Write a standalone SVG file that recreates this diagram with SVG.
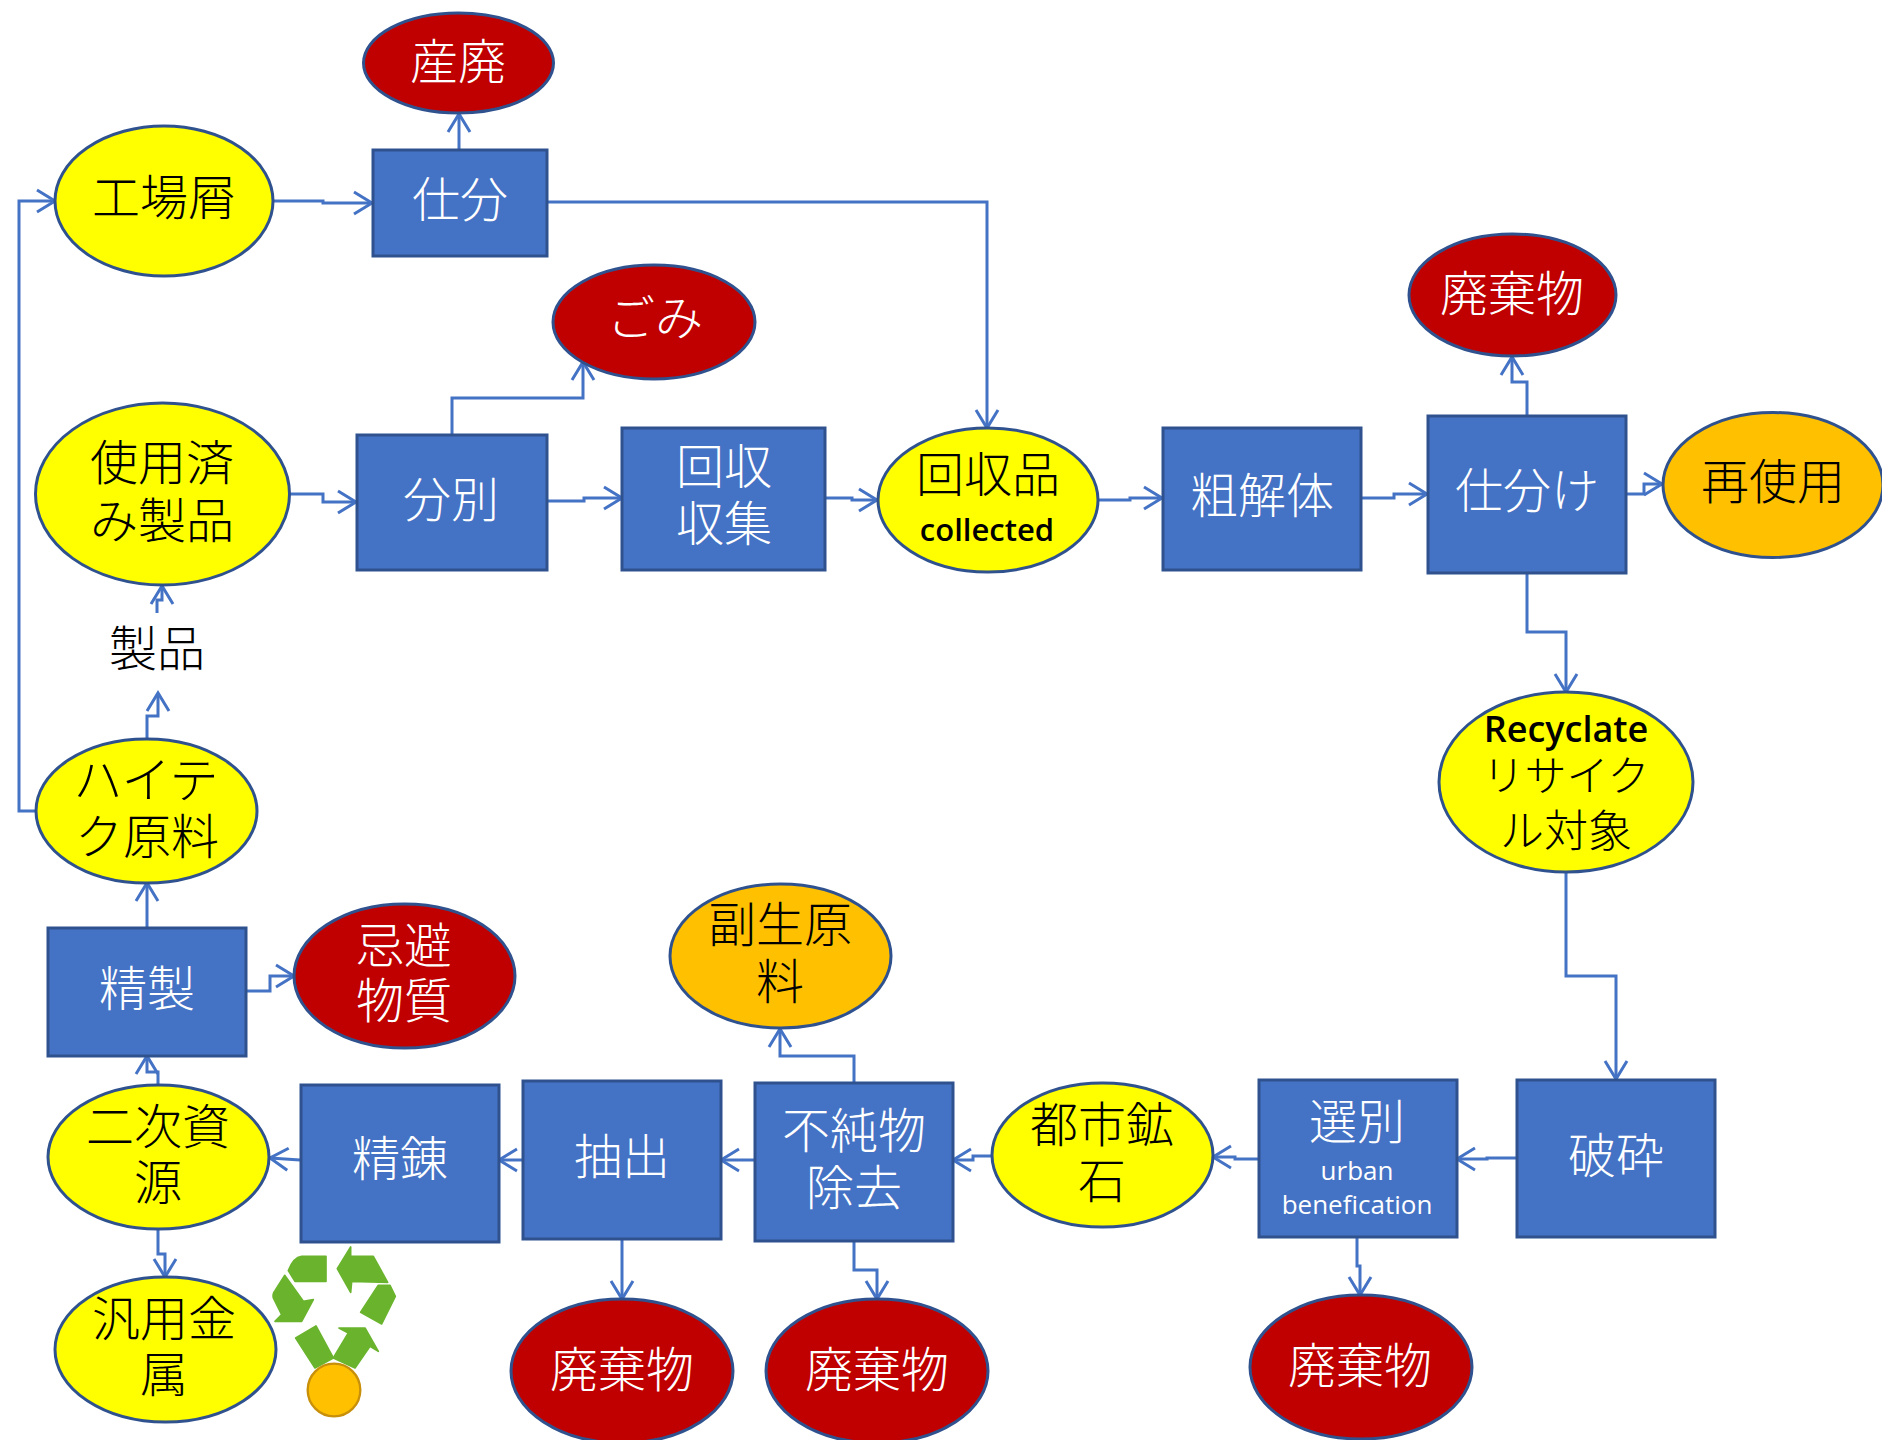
<svg xmlns="http://www.w3.org/2000/svg" width="1882" height="1440" viewBox="0 0 1882 1440">
<style>
.b{fill:#4472C4;stroke:#2F528F;stroke-width:3}
.y{fill:#FFFF00;stroke:#2F528F;stroke-width:3}
.r{fill:#C00000;stroke:#2F528F;stroke-width:3}
.o{fill:#FFC000;stroke:#2F528F;stroke-width:3}
text{font-family:"Noto Sans CJK JP","Noto Sans",sans-serif;font-size:48px;font-weight:300;text-anchor:middle;dominant-baseline:central;fill:#000}
.w{fill:#fff}
.l{font-family:"Open Sans","Noto Sans",sans-serif;font-weight:400;font-size:26px}
.c{font-family:"Open Sans","Noto Sans",sans-serif;font-weight:600;font-size:31px}
#connectors polyline{fill:none;stroke:#4472C4;stroke-width:3;marker-end:url(#a)}
.g{fill:#6AB42D;stroke:#6AB42D;stroke-width:5;stroke-linejoin:round}
</style>
<defs>
<marker id="a" markerUnits="userSpaceOnUse" markerWidth="24" markerHeight="28" refX="20" refY="12" orient="auto" viewBox="0 0 24 24" overflow="visible">
<path d="M2 1L20 12L2 23" fill="none" stroke="#4472C4" stroke-width="3"/>
</marker>
</defs>
<rect width="1882" height="1440" fill="#fff"/>
<g id="connectors">
<polyline points="273,201 323,201 323,203 372,203"/>
<polyline points="459,150 459,114"/>
<polyline points="547,202 987,202 987,428"/>
<polyline points="452,434 452,398 583,398 583,362"/>
<polyline points="289,494 323,494 323,502 356,502"/>
<polyline points="547,501 584,501 584,498 622,498"/>
<polyline points="826,498 852,498 852,500 877,500"/>
<polyline points="1098,500 1130,500 1130,498 1162,498"/>
<polyline points="1361,498 1394,498 1394,494 1427,494"/>
<polyline points="1527,415 1527,382 1512,382 1512,357"/>
<polyline points="1626,494 1644,494 1644,484 1662,484"/>
<polyline points="1527,573 1527,632 1566,632 1566,692"/>
<polyline points="1566,873 1566,976 1616,976 1616,1079"/>
<polyline points="1516,1158 1487,1158 1487,1159 1457,1159"/>
<polyline points="1258,1159 1235,1159 1235,1157 1213,1157"/>
<polyline points="1357,1237 1357,1266 1360,1266 1360,1295"/>
<polyline points="993,1156 973,1156 973,1160 953,1160"/>
<polyline points="854,1083 854,1056 780,1056 780,1029"/>
<polyline points="854,1241 854,1270 877,1270 877,1299"/>
<polyline points="755,1160 721,1160"/>
<polyline points="622,1239 622,1299"/>
<polyline points="522,1160 499,1160"/>
<polyline points="300,1160 270,1158"/>
<polyline points="158,1085 158,1072 147,1072 147,1056"/>
<polyline points="158,1230 158,1254 165,1254 165,1277"/>
<polyline points="147,928 147,883"/>
<polyline points="246,991 270,991 270,976 294,976"/>
<polyline points="147,739 147,716 158,716 158,693"/>
<polyline points="157,613 157,600 162,600 162,586"/>
<polyline points="36,811 19,811 19,201 55,201"/>
</g>
<g id="n1"><ellipse class="r" cx="458.5" cy="63" rx="95" ry="50"/><text class="w" x="458" y="58">産廃</text></g>
<g id="n2"><ellipse class="y" cx="164" cy="201" rx="109" ry="75"/><text x="164" y="194">工場屑</text></g>
<g id="n3"><rect class="b" x="373" y="150" width="174" height="106"/><text class="w" x="460" y="196">仕分</text></g>
<g id="n4"><ellipse class="r" cx="654" cy="322" rx="101" ry="57"/><text class="w" x="655" y="314">ごみ</text></g>
<g id="n5"><ellipse class="y" cx="162.5" cy="494" rx="127" ry="91"/><text x="162" y="459">使用済</text><text x="162" y="517">み製品</text></g>
<g id="n6"><rect class="b" x="357" y="435" width="190" height="135"/><text class="w" x="451" y="496">分別</text></g>
<g id="n7"><rect class="b" x="622" y="428" width="203" height="142"/><text class="w" x="724" y="463">回収</text><text class="w" x="724" y="520">収集</text></g>
<g id="n8"><ellipse class="y" cx="988" cy="500" rx="110" ry="72"/><text x="988" y="471">回収品</text><text class="c" x="987" y="529">collected</text></g>
<g id="n9"><rect class="b" x="1163" y="428" width="198" height="142"/><text class="w" x="1262" y="492">粗解体</text></g>
<g id="n10"><rect class="b" x="1428" y="416" width="198" height="157"/><text class="w" x="1527" y="487">仕分け</text></g>
<g id="n11"><ellipse class="r" cx="1512.5" cy="295" rx="103.5" ry="61"/><text class="w" x="1512" y="290">廃棄物</text></g>
<g id="n12"><ellipse class="o" cx="1773" cy="485" rx="110" ry="72.5"/><text x="1773" y="478">再使用</text></g>
<g id="n13"><ellipse class="y" cx="1566" cy="782" rx="127" ry="90"/><text class="c" style="font-size:36px" x="1566" y="728">Recyclate</text><text style="font-size:42px" x="1566" y="772">リサイク</text><text style="font-size:44px" x="1566" y="828">ル対象</text></g>
<g id="n14"><text x="157" y="645">製品</text></g>
<g id="n15"><ellipse class="y" cx="146.5" cy="811" rx="110.5" ry="72"/><text style="font-size:49px" x="146" y="776">ハイテ</text><text x="147" y="833">ク原料</text></g>
<g id="n16"><rect class="b" x="48" y="928" width="198" height="128"/><text class="w" x="147" y="985">精製</text></g>
<g id="n17"><ellipse class="r" cx="404.5" cy="976" rx="110.5" ry="72"/><text class="w" x="404" y="942">忌避</text><text class="w" x="404" y="997">物質</text></g>
<g id="n18"><ellipse class="o" cx="780.5" cy="956" rx="110.5" ry="72"/><text x="780" y="921">副生原</text><text x="780" y="978">料</text></g>
<g id="n19"><rect class="b" x="755" y="1083" width="198" height="158"/><text class="w" x="854" y="1127">不純物</text><text class="w" x="854" y="1184">除去</text></g>
<g id="n20"><ellipse class="y" cx="1102.5" cy="1155" rx="110.5" ry="72"/><text x="1102" y="1121">都市鉱</text><text x="1102" y="1177">石</text></g>
<g id="n21"><rect class="b" x="1259" y="1080" width="198" height="157"/><text class="w" x="1357" y="1118">選別</text><text class="w l" x="1357" y="1170">urban</text><text class="w l" x="1357" y="1204">benefication</text></g>
<g id="n22"><rect class="b" x="1517" y="1080" width="198" height="157"/><text class="w" x="1616" y="1152">破砕</text></g>
<g id="n23"><rect class="b" x="523" y="1081" width="198" height="158"/><text class="w" x="622" y="1153">抽出</text></g>
<g id="n24"><rect class="b" x="301" y="1085" width="198" height="157"/><text class="w" x="400" y="1155">精錬</text></g>
<g id="n25"><ellipse class="y" cx="158.5" cy="1157" rx="110.5" ry="72"/><text x="158" y="1123">二次資</text><text x="158" y="1179">源</text></g>
<g id="n26"><ellipse class="y" cx="165.5" cy="1349.5" rx="110.5" ry="72.5"/><text x="164" y="1315">汎用金</text><text x="164" y="1371">属</text></g>
<g id="n27"><ellipse class="r" cx="622" cy="1371" rx="111" ry="72"/><text class="w" x="622" y="1366">廃棄物</text></g>
<g id="n28"><ellipse class="r" cx="877" cy="1371" rx="111" ry="72"/><text class="w" x="877" y="1366">廃棄物</text></g>
<g id="n29"><ellipse class="r" cx="1361" cy="1367" rx="111" ry="72"/><text class="w" x="1360" y="1362">廃棄物</text></g>
<g id="icon" transform="translate(240 1218) scale(.3333)">
<path class="g" d="M145 158Q160 118 185 115L258 115L258 190L165 190Z"/>
<path class="g" d="M134 172L190 250L220 245L185 310L105 310L125 290L100 240Q97 228 105 218Z"/>
<path class="g" d="M292 152L332 87L332 115L400 115L443 193L335 190L332 223Z"/>
<path class="g" d="M415 202L450 202L466 235L425 318L362 283Z"/>
<path class="g" d="M167 360L228 324L280 420L225 450Z"/>
<path class="g" d="M280 420L325 345L297 330L375 330L415 400L390 385L345 450Z"/>
<circle cx="282" cy="516" r="79" fill="#FFC000" stroke="#C8900A" stroke-width="7"/>
</g>
</svg>
